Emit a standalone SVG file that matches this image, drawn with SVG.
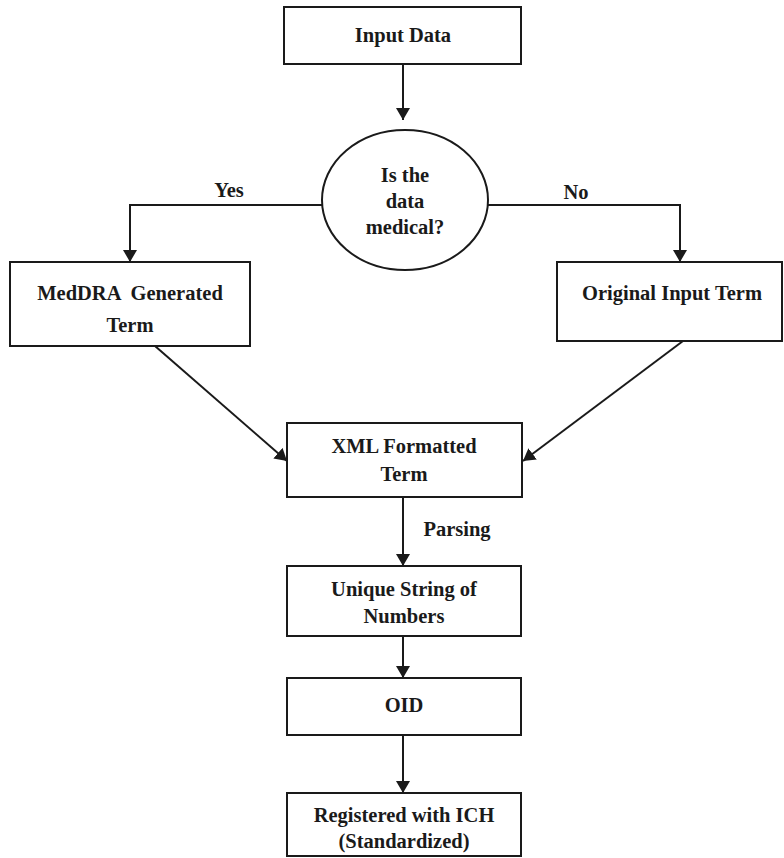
<svg xmlns="http://www.w3.org/2000/svg" width="784" height="858" viewBox="0 0 784 858">
  <style>
    .box { fill: #ffffff; stroke: #1a1a1a; stroke-width: 2; }
    .lbl { font-family: "Liberation Serif", "Times New Roman", serif; font-weight: bold; font-size: 20.5px; fill: #1a1a1a; text-anchor: middle; }
    .edge { fill: none; stroke: #1a1a1a; stroke-width: 2; marker-end: url(#arrow); }
  </style>
  <defs>
    <marker id="arrow" viewBox="0 0 12 14" refX="12" refY="7" markerWidth="12" markerHeight="14" markerUnits="userSpaceOnUse" orient="auto">
      <path d="M0,0 L12,7 L0,14 Z" fill="#1a1a1a"/>
    </marker>
  </defs>
  <rect width="784" height="858" fill="#ffffff"/>

  <!-- connectors -->
  <g id="connectors">
    <path class="edge" d="M403,64 L403,120"/>
    <path class="edge" d="M322,205 L130,205 L130,262"/>
    <path class="edge" d="M488,205 L680,205 L680,262"/>
    <path class="edge" d="M155,346 L287,461"/>
    <path class="edge" d="M683,341 L523,461"/>
    <path class="edge" d="M403,497 L403,566"/>
    <path class="edge" d="M403,636 L403,678"/>
    <path class="edge" d="M403,735 L403,793"/>
    <text class="lbl" x="229" y="197">Yes</text>
    <text class="lbl" x="576" y="199">No</text>
    <text class="lbl" x="457" y="536">Parsing</text>
  </g>

  <g id="input-data">
    <rect class="box" x="284" y="7" width="237" height="57"/>
    <text class="lbl" x="403" y="42">Input Data</text>
  </g>

  <g id="is-medical">
    <ellipse class="box" cx="405" cy="200" rx="83" ry="70"/>
    <text class="lbl" x="405" y="182">Is the</text>
    <text class="lbl" x="405" y="208">data</text>
    <text class="lbl" x="405" y="234">medical?</text>
  </g>

  <g id="meddra-term">
    <rect class="box" x="10" y="262" width="240" height="84"/>
    <text class="lbl" x="130" y="300" xml:space="preserve">MedDRA  Generated</text>
    <text class="lbl" x="130" y="332">Term</text>
  </g>

  <g id="original-term">
    <rect class="box" x="557" y="262" width="225" height="79"/>
    <text class="lbl" x="672" y="300">Original Input Term</text>
  </g>

  <g id="xml-term">
    <rect class="box" x="287" y="423" width="235" height="74"/>
    <text class="lbl" x="404" y="453">XML Formatted</text>
    <text class="lbl" x="404" y="481">Term</text>
  </g>

  <g id="unique-string">
    <rect class="box" x="287" y="566" width="234" height="70"/>
    <text class="lbl" x="404" y="596">Unique String of</text>
    <text class="lbl" x="404" y="623">Numbers</text>
  </g>

  <g id="oid">
    <rect class="box" x="287" y="678" width="234" height="57"/>
    <text class="lbl" x="404" y="712">OID</text>
  </g>

  <g id="registered">
    <rect class="box" x="287" y="793" width="234" height="63"/>
    <text class="lbl" x="404" y="822">Registered with ICH</text>
    <text class="lbl" x="404" y="848">(Standardized)</text>
  </g>
</svg>
